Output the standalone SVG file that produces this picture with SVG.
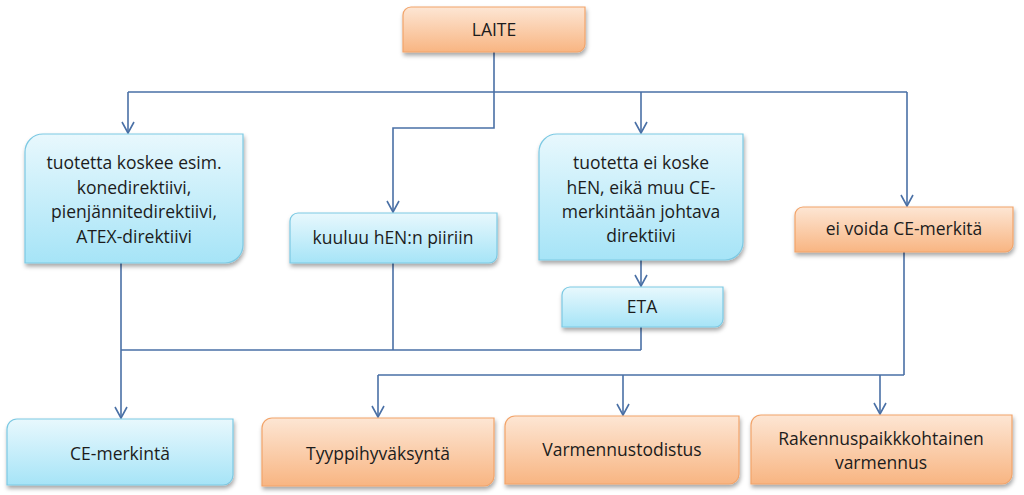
<svg xmlns="http://www.w3.org/2000/svg" width="1024" height="495" viewBox="0 0 1024 495">
<defs>
<linearGradient id="gBlue" x1="0" y1="0" x2="0" y2="1">
<stop offset="0" stop-color="#e8f8fd"/>
<stop offset="1" stop-color="#a6e4f7"/>
</linearGradient>
<linearGradient id="gOrange" x1="0" y1="0" x2="0" y2="1">
<stop offset="0" stop-color="#fde6d4"/>
<stop offset="1" stop-color="#f8b582"/>
</linearGradient>
<filter id="sh" x="-10%" y="-10%" width="120%" height="140%">
<feDropShadow dx="1" dy="3" stdDeviation="2" flood-color="#000" flood-opacity="0.35"/>
</filter>
<marker id="arr" markerUnits="userSpaceOnUse" markerWidth="16" markerHeight="16" viewBox="0 0 16 16" refX="14" refY="8" orient="auto" overflow="visible">
<path d="M3,2 L14,8 L3,14" fill="none" stroke="#4a70a6" stroke-width="1.6"/>
</marker>
</defs>
<style>
.blue{fill:url(#gBlue);stroke:#7cc9e3;stroke-width:1.2;filter:url(#sh)}
.orange{fill:url(#gOrange);stroke:#f2a46a;stroke-width:1.2;filter:url(#sh)}
.t{font-family:"Open Sans","Liberation Sans",sans-serif;font-size:17.5px;fill:#1c1c1c;text-anchor:middle}
.c{fill:none;stroke:#4a70a6;stroke-width:1.6}
.a{marker-end:url(#arr)}
</style>
<rect width="1024" height="495" fill="#ffffff"/>
<g id="connectors">
<path class="c" d="M494,52 V92 M128,92 H907"/>
<path class="c a" d="M128,92 V133"/>
<path class="c a" d="M494,92 V128 H393 V212"/>
<path class="c a" d="M641,92 V133"/>
<path class="c a" d="M907,92 V206"/>
<path class="c a" d="M641,260 V286"/>
<path class="c a" d="M121,263 V418"/>
<path class="c" d="M393,263 V350 M641,327 V350 M121,350 H641"/>
<path class="c" d="M904,252 V375 M378,375 H904"/>
<path class="c a" d="M378,375 V417"/>
<path class="c a" d="M623,375 V415"/>
<path class="c a" d="M880,375 V414"/>
</g>
<g id="laite">
<path class="orange" d="M411,7 H585 V44 A8,8 0 0 1 577,52 H403 V15 A8,8 0 0 1 411,7 Z"/>
<text class="t" x="494" y="36">LAITE</text>
</g>
<g id="koskee">
<path class="blue" d="M43,134 H243 V245 A18,18 0 0 1 225,263 H25 V152 A18,18 0 0 1 43,134 Z"/>
<text class="t" x="134" y="169">tuotetta koskee esim.</text>
<text class="t" x="134" y="194">konedirektiivi,</text>
<text class="t" x="134" y="218">pienjännitedirektiivi,</text>
<text class="t" x="134" y="243">ATEX-direktiivi</text>
</g>
<g id="hen">
<path class="blue" d="M298,213 H497 V255 A8,8 0 0 1 489,263 H290 V221 A8,8 0 0 1 298,213 Z"/>
<text class="t" x="393" y="244">kuuluu hEN:n piiriin</text>
</g>
<g id="eikoske">
<path class="blue" d="M557,134 H743 V242 A18,18 0 0 1 725,260 H539 V152 A18,18 0 0 1 557,134 Z"/>
<text class="t" x="641" y="169">tuotetta ei koske</text>
<text class="t" x="641" y="194">hEN, eikä muu CE-</text>
<text class="t" x="641" y="218">merkintään johtava</text>
<text class="t" x="641" y="242">direktiivi</text>
</g>
<g id="eta">
<path class="blue" d="M570,287 H723 V319 A8,8 0 0 1 715,327 H562 V295 A8,8 0 0 1 570,287 Z"/>
<text class="t" x="642" y="313">ETA</text>
</g>
<g id="eivoida">
<path class="orange" d="M803,207 H1013 V244 A8,8 0 0 1 1005,252 H795 V215 A8,8 0 0 1 803,207 Z"/>
<text class="t" x="904" y="235">ei voida CE-merkitä</text>
</g>
<g id="cemerkinta">
<path class="blue" d="M17,419 H233 V475 A10,10 0 0 1 223,485 H7 V429 A10,10 0 0 1 17,419 Z"/>
<text class="t" x="120" y="460">CE-merkintä</text>
</g>
<g id="tyyppi">
<path class="orange" d="M272,418 H494 V476 A10,10 0 0 1 484,486 H262 V428 A10,10 0 0 1 272,418 Z"/>
<text class="t" x="378" y="460">Tyyppihyväksyntä</text>
</g>
<g id="varmennus">
<path class="orange" d="M515,416 H739 V474 A10,10 0 0 1 729,484 H505 V426 A10,10 0 0 1 515,416 Z"/>
<text class="t" x="622" y="456">Varmennustodistus</text>
</g>
<g id="rakennus">
<path class="orange" d="M761,415 H1012 V474 A10,10 0 0 1 1002,484 H751 V425 A10,10 0 0 1 761,415 Z"/>
<text class="t" x="881" y="445">Rakennuspaikkkohtainen</text>
<text class="t" x="881" y="469">varmennus</text>
</g>
</svg>
